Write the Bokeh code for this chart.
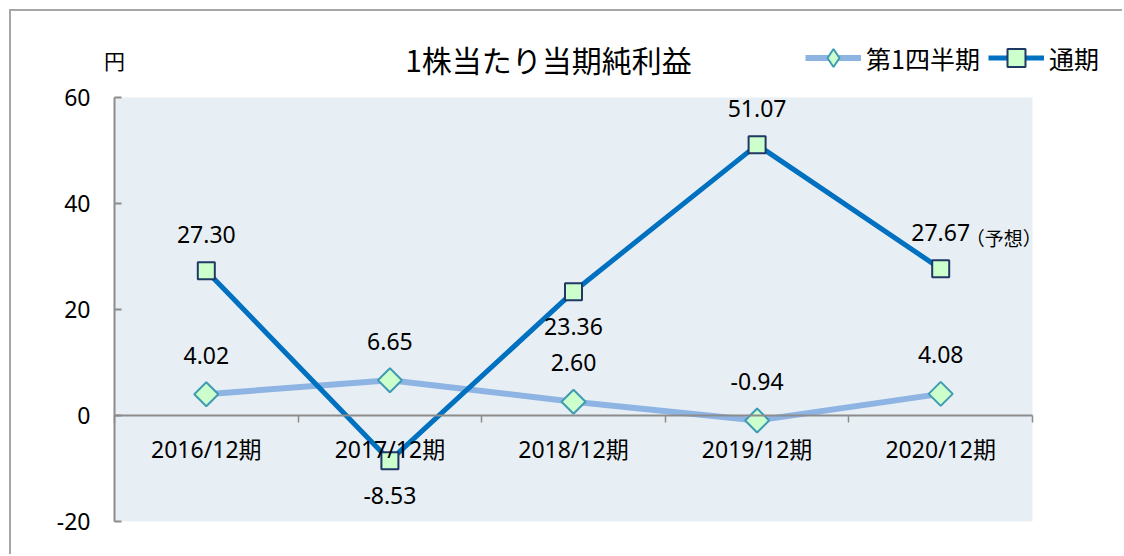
import math
from bokeh.plotting import figure
from bokeh.models import (Range1d, FixedTicker, LinearAxis, Label, Legend,
                          LegendItem, ColumnDataSource)
from bokeh.core.properties import value
from bokeh.embed import file_html
from bokeh.resources import INLINE

# ---- data ----
categories = ["2016/12期", "2017/12期", "2018/12期", "2019/12期", "2020/12期"]
q1_values = [4.02, 6.65, 2.60, -0.94, 4.08]
annual_values = [27.30, -8.53, 23.36, 51.07, 27.67]
y_ticks = [-20, 0, 20, 40, 60]
series_names = ["第1四半期", "通期"]
title_text = "1株当たり当期純利益"
unit_text = "円"
forecast_note = "（予想）"
annual_label_side = ["above", "below", "below", "above", "above"]

# ---- style / layout ----
FONT = "Noto Sans, Noto Sans CJK JP"
CJK = "Noto Sans CJK JP"
GRAY = "#8C8C8C"
Q1_LINE, Q1_EDGE = "#8EB4E3", "#3E9BB3"
AN_LINE, AN_EDGE = "#0070C0", "#1F3864"
MARK_FILL = "#CCFFCC"
W, H = 1113, 545            # canvas size
OX, OY = 11, 11             # canvas origin on page (margin + border)
PA_L, PA_R, PA_T, PA_B = 114, 1032, 97, 521   # plot area on page

n = len(categories)
xs = [i + 0.5 for i in range(n)]
ymin, ymax = y_ticks[0], y_ticks[-1]

sx = (PA_R - PA_L) / n
sy = (PA_B - PA_T) / (ymax - ymin)
x_range = Range1d((OX - PA_L) / sx, (OX + W - PA_L) / sx)
y_range = Range1d(ymin - (OY + H - PA_B) / sy, ymax + (PA_T - OY) / sy)

p = figure(width=W, height=H, x_range=x_range, y_range=y_range,
           output_backend="svg", toolbar_location=None,
           x_axis_location=None, y_axis_location=None,
           min_border=0, min_border_left=0, min_border_right=0,
           min_border_top=0, min_border_bottom=0,
           background_fill_color="white", border_fill_color="white",
           outline_line_color=None,
           styles={"margin-left": "9px", "margin-top": "9px",
                   "border-left": "2px solid #A6A6A6",
                   "border-top": "2px solid #A6A6A6"})
p.xgrid.visible = False
p.ygrid.visible = False

# plot area background
p.quad(left=[0], right=[n], bottom=[ymin], top=[ymax],
       fill_color="#E8EFF4", line_color=None)

yaxis = LinearAxis(fixed_location=0, bounds=(ymin, ymax),
                   ticker=FixedTicker(ticks=y_ticks),
                   major_label_overrides={t: str(t) for t in y_ticks},
                   axis_line_color=GRAY, axis_line_width=2,
                   major_tick_in=7, major_tick_out=0,
                   major_tick_line_color=GRAY, major_tick_line_width=2,
                   minor_tick_line_color=None,
                   major_label_standoff=24,
                   major_label_text_font=FONT,
                   major_label_text_font_size="23px",
                   major_label_text_color="black")
p.add_layout(yaxis, "left")

xaxis = LinearAxis(fixed_location=0, bounds=(0, n),
                   ticker=FixedTicker(ticks=xs, minor_ticks=list(range(n + 1))),
                   major_label_overrides={x: c for x, c in zip(xs, categories)},
                   major_tick_line_color=None, major_tick_in=0, major_tick_out=0,
                   minor_tick_in=0, minor_tick_out=7,
                   minor_tick_line_color=GRAY, minor_tick_line_width=1.5,
                   axis_line_color=GRAY, axis_line_width=2,
                   major_label_standoff=10,
                   major_label_text_font=FONT,
                   major_label_text_font_size="23px",
                   major_label_text_color="black")
p.add_layout(xaxis, "below")

# ---- series ----
r1 = p.line(xs, q1_values, line_color=Q1_LINE, line_width=6)
s1 = p.scatter(xs, q1_values, marker="square", size=17, angle=math.pi / 4,
               fill_color=MARK_FILL, line_color=Q1_EDGE, line_width=2)
r2 = p.line(xs, annual_values, line_color=AN_LINE, line_width=5)
s2 = p.scatter(xs, annual_values, marker="square", size=17,
               fill_color=MARK_FILL, line_color=AN_EDGE, line_width=2)
# legend-only diamond swatch (no visible data point)
q1_swatch = p.scatter([float("nan")], [float("nan")], marker="diamond", size=20,
                      fill_color=MARK_FILL, line_color=Q1_EDGE, line_width=2)

# ---- data labels ----
src_q1 = ColumnDataSource(dict(x=xs, y=q1_values,
                               t=[f"{v:.2f}" for v in q1_values]))
p.text(x="x", y="y", text="t", source=src_q1, y_offset=-39,
       text_align="center", text_baseline="middle",
       text_font=value(FONT), text_font_size="23px", text_color="black")

src_an = ColumnDataSource(dict(x=xs, y=annual_values,
                               t=[f"{v:.2f}" for v in annual_values],
                               off=[-36 if s == "above" else 35 for s in annual_label_side]))
p.text(x="x", y="y", text="t", source=src_an, y_offset="off",
       text_align="center", text_baseline="middle",
       text_font=value(FONT), text_font_size="23px", text_color="black")

p.add_layout(Label(x=xs[-1], y=annual_values[-1], x_offset=25, y_offset=31,
                   text=forecast_note, text_align="left", text_baseline="middle",
                   text_font=CJK, text_font_size="19px", text_color="black"))

# ---- title & unit ----
p.add_layout(Label(x=(548 - PA_L) / sx, y=ymax, y_offset=39, text=title_text,
                   text_align="center", text_baseline="middle",
                   text_font=CJK, text_font_size="30px", text_color="black"))
p.add_layout(Label(x=0, y=ymax, y_offset=38, text=unit_text,
                   text_align="center", text_baseline="middle",
                   text_font=CJK, text_font_size="21px", text_color="black"))

# ---- legend ----
leg_h = 45
legend = Legend(items=[LegendItem(label=series_names[0], renderers=[r1, q1_swatch]),
                       LegendItem(label=series_names[1], renderers=[r2, s2])],
                orientation="horizontal",
                location=(805 - OX, H - (58 - OY) - leg_h // 2),
                glyph_width=56, glyph_height=leg_h, label_standoff=5, spacing=8,
                padding=0, margin=0, border_line_color=None,
                background_fill_alpha=0,
                label_text_font=CJK, label_text_font_size="25px",
                label_text_color="black")
p.add_layout(legend)

open("out.html", "w").write(file_html(p, INLINE))
